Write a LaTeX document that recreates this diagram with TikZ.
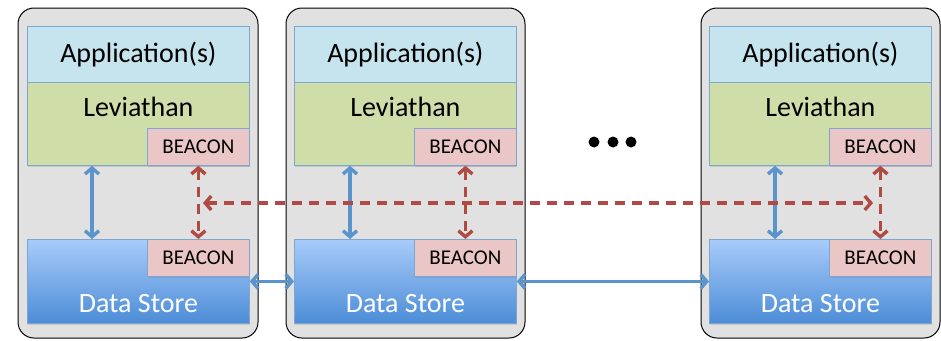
\documentclass[tikz,border=0pt]{standalone}
\usepackage{fontspec}
\setmainfont{Carlito}
\usetikzlibrary{arrows.meta,shadows}

\definecolor{panelfill}{HTML}{E1E1E1}
\definecolor{appfill}{HTML}{C5E4EE}
\definecolor{levfill}{HTML}{CFDDA9}
\definecolor{beaconfill}{HTML}{EAC6C6}
\definecolor{boxedge}{HTML}{7EA6D3}
\definecolor{dstop}{HTML}{A8CBFA}
\definecolor{dsbottom}{HTML}{4C8DD7}
\definecolor{linkblue}{HTML}{5B94CC}
\definecolor{linkred}{HTML}{B04A42}

\tikzset{
  panel/.style={draw=black, line width=1pt, fill=panelfill, rounded corners=16pt},
  layer/.style={draw=boxedge, line width=0.8pt, anchor=north west, inner sep=0pt,
                minimum width=222pt, drop shadow={shadow xshift=1pt, shadow yshift=-1.5pt, opacity=0.25}},
  appbox/.style={layer, fill=appfill, minimum height=56pt, font=\fontsize{28}{32}\selectfont},
  levbox/.style={layer, fill=levfill, minimum height=83pt},
  beaconbox/.style={layer, fill=beaconfill, anchor=north east, minimum width=102pt,
                    minimum height=37pt, font=\fontsize{21}{24}\selectfont},
  dsbox/.style={layer, top color=dstop, bottom color=dsbottom, minimum height=84pt},
  layertext/.style={font=\fontsize{28}{32}\selectfont},
  tipbarb/.tip={Straight Barb[length=6pt,width=14pt]},
  bluelink/.style={draw=linkblue, line width=3.4pt, tipbarb-tipbarb},
  redlink/.style={draw=linkred, line width=3.4pt, dash pattern=on 10pt off 7pt, tipbarb-tipbarb},
  dot/.style={circle, fill=black, inner sep=0pt, minimum size=11pt}
}

\begin{document}
\begin{tikzpicture}[x=1pt, y=-1pt]
  \useasboundingbox (0,0) rectangle (941,340);

  % one node stack per panel: name / panel left / panel right / box left
  \foreach \n/\pl/\pr/\bl in {1/18/258/27, 2/286/525/294, 3/701/940/709} {
    \draw[panel] (\pl,8) rectangle (\pr,338);
    \node[appbox] (app\n) at (\bl,26) {Application(s)};
    \node[levbox] (lev\n) at (\bl,82) {};
    \node[layertext] at ([yshift=-25pt]lev\n.north) {Leviathan};
    \node[beaconbox] (bt\n) at (lev\n.south east) [anchor=south east] {BEACON};
    \node[dsbox] (ds\n) at (\bl,239) {};
    \node[layertext, text=white] at ([yshift=20pt]ds\n.south) {Data Store};
    \node[beaconbox] (bb\n) at (ds\n.north east) {BEACON};
  }

  % application layer <-> data store inside each panel
  \draw[bluelink] ([xshift=65pt]lev1.south west) -- ([xshift=65pt]ds1.north west);
  \draw[bluelink] ([xshift=56pt]lev2.south west) -- ([xshift=56pt]ds2.north west);
  \draw[bluelink] ([xshift=66pt]lev3.south west) -- ([xshift=66pt]ds3.north west);

  % beacon <-> beacon inside each panel
  \foreach \n in {1,2,3}
    \draw[redlink] (bt\n.south) -- (bb\n.north);

  % beacons talking across panels
  \coordinate (rl) at (203,203);
  \coordinate (rr) at (873,203);
  \draw[redlink] (rl) -- (rr);

  % data store replication links
  \draw[bluelink] (ds1.east) -- (ds2.west);
  \draw[bluelink] (ds2.east) -- (ds3.west);

  % ellipsis between the panels
  \node[dot] (d1) at (594,142) {};
  \node[dot] (d2) at (613,142) {};
  \node[dot] (d3) at (631,142) {};
\end{tikzpicture}
\end{document}
